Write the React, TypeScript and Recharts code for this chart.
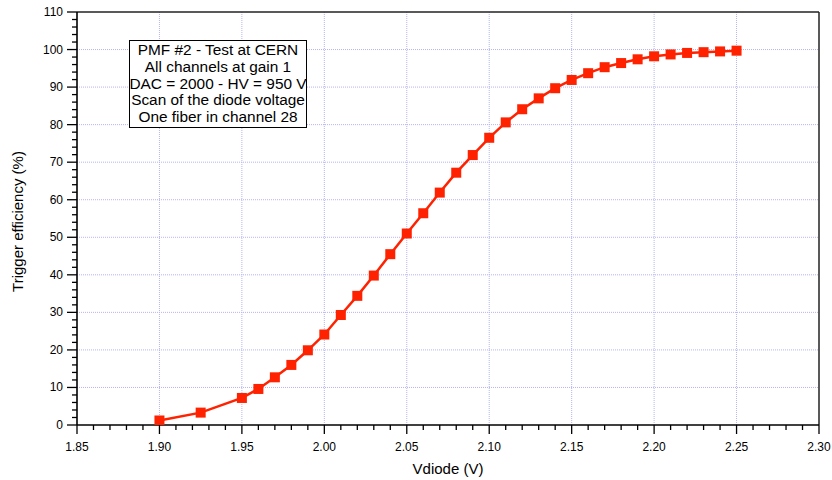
import { LineChart, Line, XAxis, YAxis, CartesianGrid, ReferenceLine } from 'recharts';

const FONT = '"Liberation Sans", Arial, Helvetica, sans-serif';

// Diode voltage scan (V) and measured trigger efficiency (%)
const vdiode = [
  1.9, 1.925, 1.95, 1.96, 1.97, 1.98, 1.99, 2.0, 2.01, 2.02, 2.03, 2.04, 2.05, 2.06, 2.07,
  2.08, 2.09, 2.1, 2.11, 2.12, 2.13, 2.14, 2.15, 2.16, 2.17, 2.18, 2.19, 2.2, 2.21, 2.22,
  2.23, 2.24, 2.25,
];
const efficiency = [
  1.2, 3.3, 7.2, 9.6, 12.7, 16.0, 19.9, 24.1, 29.3, 34.4, 39.8, 45.5, 51.0, 56.4, 61.9,
  67.2, 71.9, 76.5, 80.6, 84.1, 87.0, 89.7, 91.9, 93.7, 95.3, 96.4, 97.4, 98.2, 98.7, 99.1,
  99.3, 99.5, 99.7,
];

const xMajorTicks = [1.85, 1.9, 1.95, 2.0, 2.05, 2.1, 2.15, 2.2, 2.25, 2.3];
const yMajorTicks = [0, 10, 20, 30, 40, 50, 60, 70, 80, 90, 100, 110];

const boxLines = [
  'PMF #2 - Test at CERN',
  'All channels at gain 1',
  'DAC = 2000 - HV = 950 V',
  'Scan of the diode voltage',
  'One fiber in channel 28',
];

// minor ticks: 4 between each major
const xAllTicks: number[] = [];
for (let i = 185; i <= 230; i++) xAllTicks.push(i / 100);
const yAllTicks: number[] = [];
for (let i = 0; i <= 110; i += 2) yAllTicks.push(i);

const data = vdiode.map((v, i) => ({ v, eff: efficiency[i] }));

const isMajor = (val: number, list: number[]) => list.some((t) => Math.abs(t - val) < 1e-6);

const XTick = (props: any) => {
  const { x, y, payload } = props;
  const major = isMajor(payload.value, xMajorTicks);
  return (
    <g>
      <line x1={x} x2={x} y1={y} y2={y + (major ? 9 : 5)} stroke="#000" strokeWidth={1.3} />
      {major && (
        <text x={x} y={y + 26} textAnchor="middle" fontSize={12} fontFamily={FONT} fill="#000">
          {payload.value.toFixed(2)}
        </text>
      )}
    </g>
  );
};

const YTick = (props: any) => {
  const { x, y, payload } = props;
  const major = isMajor(payload.value, yMajorTicks);
  return (
    <g>
      <line x1={x} x2={x - (major ? 10 : 5)} y1={y} y2={y} stroke="#000" strokeWidth={1.3} />
      {major && (
        <text x={x - 14} y={y + 4} textAnchor="end" fontSize={12} fontFamily={FONT} fill="#000">
          {payload.value}
        </text>
      )}
    </g>
  );
};

const SquareDot = (props: any) => {
  const { cx, cy, index } = props;
  if (cx == null || cy == null) return null;
  return <rect key={`dot-${index}`} x={cx - 5} y={cy - 5} width={10} height={10} fill="#ff2200" />;
};

const YTitle = (props: any) => {
  const vb = props.viewBox || { x: 0, y: 12, width: 77, height: 413 };
  const cx = vb.x + 23;
  const cy = vb.y + vb.height / 2 + 3;
  return (
    <text
      x={cx}
      y={cy}
      textAnchor="middle"
      transform={`rotate(-90, ${cx}, ${cy})`}
      fontSize={15}
      fontFamily={FONT}
      fill="#000"
    >
      Trigger efficiency (%)
    </text>
  );
};

const XTitle = (props: any) => {
  const vb = props.viewBox || { x: 77, y: 425, width: 742, height: 55 };
  return (
    <text x={vb.x + vb.width / 2} y={vb.y + 49} textAnchor="middle" fontSize={15} fontFamily={FONT} fill="#000">
      Vdiode (V)
    </text>
  );
};

export default function App() {
  return (
    <div style={{ position: 'absolute', left: 0, top: 0, width: 832, height: 480, background: '#fff' }}>
      <LineChart width={832} height={480} data={data} margin={{ top: 12, right: 13, left: 0, bottom: 0 }}>
        <CartesianGrid
          verticalValues={xMajorTicks.slice(1, -1)}
          horizontalValues={yMajorTicks.slice(1, -1)}
          stroke="#b4b4f6"
          strokeDasharray="1 1"
        />
        <XAxis
          dataKey="v"
          type="number"
          domain={[1.85, 2.3]}
          ticks={xAllTicks}
          interval={0}
          tickSize={0}
          tickMargin={0}
          tickLine={false}
          tick={<XTick />}
          height={55}
          axisLine={{ stroke: '#000', strokeWidth: 1.6 }}
          allowDataOverflow
          label={<XTitle />}
        />
        <YAxis
          type="number"
          domain={[0, 110]}
          ticks={yAllTicks}
          interval={0}
          tickSize={0}
          tickMargin={0}
          tickLine={false}
          tick={<YTick />}
          width={77}
          axisLine={{ stroke: '#000', strokeWidth: 1.6 }}
          allowDataOverflow
          label={<YTitle />}
        />
        <Line
          dataKey="eff"
          type="linear"
          stroke="#ff2200"
          strokeWidth={2.5}
          dot={<SquareDot />}
          activeDot={false}
          isAnimationActive={false}
        />
        <ReferenceLine y={110} stroke="#222" strokeWidth={1.5} />
        <ReferenceLine x={2.3} stroke="#222" strokeWidth={1.5} />
      </LineChart>
      <div
        style={{
          position: 'absolute',
          left: 129,
          top: 40,
          width: 178,
          height: 88,
          boxSizing: 'border-box',
          border: '1.5px solid #000',
          background: '#fff',
          display: 'flex',
          flexDirection: 'column',
          justifyContent: 'center',
          alignItems: 'center',
          fontFamily: FONT,
          fontSize: 15.4,
          lineHeight: '16.75px',
          color: '#000',
          whiteSpace: 'nowrap',
        }}
      >
        {boxLines.map((t) => (
          <div key={t}>{t}</div>
        ))}
      </div>
    </div>
  );
}
